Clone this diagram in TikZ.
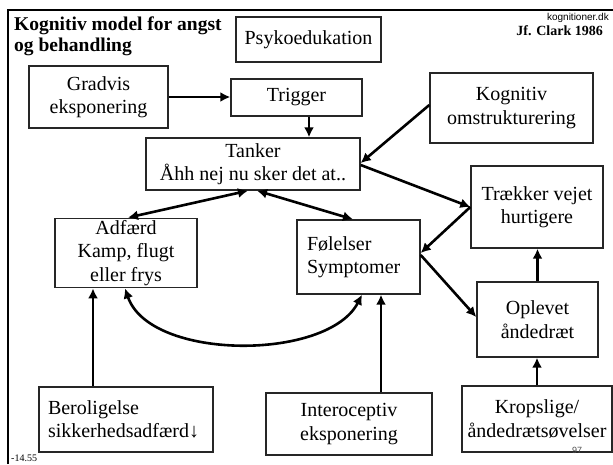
\documentclass[tikz,border=0pt]{standalone}
\usepackage{fontspec}
\setmainfont{Liberation Serif}
\newfontfamily\smallsans{Liberation Sans}
\usetikzlibrary{arrows.meta}
\tikzset{
  box/.style={draw=black!85, line width=1.4pt, fill=white, align=center, inner sep=2pt,
    font=\fontsize{20}{23.5}\selectfont},
  arr/.style={line width=2.6pt, -{Latex[length=10pt,width=10pt]}},
  darr/.style={line width=2.6pt, {Latex[length=10pt,width=10pt]}-{Latex[length=10pt,width=10pt]}}
}
\begin{document}
\begin{tikzpicture}[x=1pt,y=-1pt]
\useasboundingbox (0,0) rectangle (613,464);
% frame
\draw[line width=2.4pt] (8,464) -- (8,10) -- (613,10);
% title texts
\node[anchor=west, align=left, inner sep=0pt, font=\fontsize{19.5}{21}\selectfont\bfseries] (title) at (14,36)
  {Kognitiv model for angst\\og behandling};
\node[anchor=east, inner sep=0pt, font=\smallsans\fontsize{10}{11}\selectfont] (site) at (609,18) {kognitioner.dk};
\node[anchor=east, inner sep=0pt, font=\fontsize{14}{15}\selectfont\bfseries] (clark) at (603,31) {Jf. Clark 1986};
\node[anchor=west, inner sep=0pt, font=\fontsize{10}{11}\selectfont] (pg) at (11,458) {-14.55};
% boxes
\node[box, minimum width=145pt, minimum height=45pt] (psy) at (308.5,39.5) {Psykoedukation};
\node[box, minimum width=139pt, minimum height=62pt] (grad) at (98.5,97) {Gradvis\\eksponering};
\node[box, minimum width=131pt, minimum height=37pt] (trig) at (296.5,97.5) {Trigger};
\node[box, minimum width=214pt, minimum height=52pt] (tank) at (253,164) {Tanker\\Åhh nej nu sker det at..};
\node[box, minimum width=163pt, minimum height=70pt] (kog) at (511.5,108) {Kognitiv\\omstrukturering};
\node[box, minimum width=132pt, minimum height=82pt] (trak) at (537,207) {Trækker vejet\\hurtigere};
\node[box, minimum width=142pt, minimum height=68pt] (adf) at (126,253) {Adfærd\\Kamp, flugt\\eller frys};
\node[box, minimum width=123pt, minimum height=74pt, align=left, text width=103pt] (fol) at (358.5,257) {Følelser\\Symptomer};
\node[box, minimum width=121pt, minimum height=75pt] (opl) at (537.5,319.5) {Oplevet\\åndedræt};
\node[box, minimum width=174pt, minimum height=65pt, align=left, text width=156pt] (ber) at (126,419.5) {Beroligelse\\sikkerhedsadfærd\smallsans↓};
\node[box, minimum width=166pt, minimum height=62pt] (int) at (349,424) {Interoceptiv\\eksponering};
\node[box, minimum width=150pt, minimum height=66pt] (krop) at (537,419) {Kropslige/\\åndedrætsøvelser};
\node[anchor=center, inner sep=0pt, text=black!70, font=\smallsans\fontsize{9}{10}\selectfont] (num) at (577,450) {97};
% connectors
\draw[arr] (grad.east) -- (grad.east -| trig.west);
\draw[arr] ([xshift=12.5pt]trig.south) -- ([xshift=12.5pt]trig.south |- tank.north);
\draw[arr] ([yshift=3pt]kog.west) -- ([yshift=1pt]tank.east);
\draw[arr] ([yshift=-1pt]tank.east) -- (trak.west);
\draw[arr] (trak.west) -- ([yshift=4pt]fol.east);
\draw[arr] ([yshift=2pt]fol.east) -- ([yshift=2.5pt]opl.west);
\draw[arr] (opl.north) -- (opl.north |- trak.south);
\draw[arr] (krop.north) -- (krop.north |- opl.south);
\draw[darr] ([xshift=2pt]adf.north) -- ([xshift=-5pt]tank.south);
\draw[darr] ([xshift=4pt]tank.south) -- ([xshift=-5.5pt]fol.north);
\draw[arr] ([xshift=-33pt]ber.north) -- ([xshift=-33pt]ber.north |- adf.south);
\draw[arr] ([xshift=32pt]int.north) -- ([xshift=32pt]int.north |- fol.south);
\draw[darr] ([xshift=-1pt]adf.south) .. controls (150,361) and (328,361) .. ([xshift=3.5pt]fol.south);
\end{tikzpicture}
\end{document}
